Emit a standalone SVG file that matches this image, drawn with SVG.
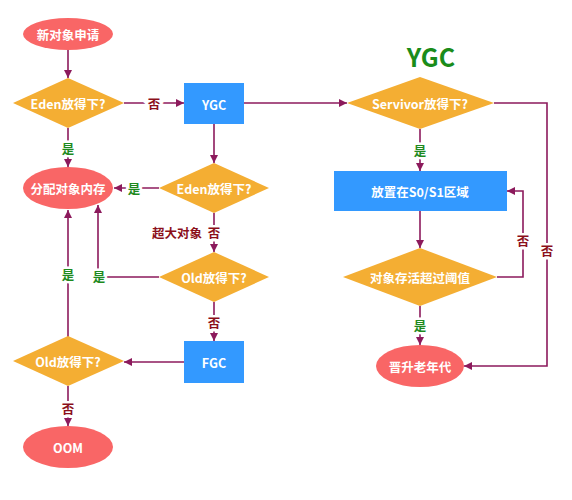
<svg xmlns="http://www.w3.org/2000/svg" width="572" height="500" viewBox="0 0 572 500">
<defs>
<marker id="ah" viewBox="0 0 10 10" refX="10" refY="5" markerWidth="8" markerHeight="8" markerUnits="userSpaceOnUse" orient="auto">
<path d="M0,0 L10,5 L0,10 z" fill="#8C1A5C"/>
</marker>
</defs>
<style>
.term{fill:#F96666}
.dec{fill:#F4AE33}
.proc{fill:#3399FF}
.nt{font-family:"Noto Sans CJK SC","Noto Sans",sans-serif;font-size:12.5px;font-weight:bold;fill:#fff;text-anchor:middle;dominant-baseline:central}
.ln{fill:none;stroke:#8C1A5C;stroke-width:1.6}
.lbl{font-family:"Noto Sans CJK SC",sans-serif;font-size:12.5px;font-weight:bold;text-anchor:middle;dominant-baseline:central;stroke:#fff;stroke-width:5;paint-order:stroke}
.no{fill:#8B0F1A}
.yes{fill:#1E8A1E}
.title{font-family:"Noto Sans CJK SC","Noto Sans",sans-serif;font-size:25px;font-weight:bold;fill:#1A8C1A;text-anchor:middle;dominant-baseline:central}
</style>
<rect width="572" height="500" fill="#fff"/>
<text class="title" x="431" y="56">YGC</text>
<g id="connectors">
<path class="ln" d="M68,50 V78" marker-end="url(#ah)"/>
<path class="ln" d="M124,103 H184" marker-end="url(#ah)"/>
<path class="ln" d="M244,103 H347" marker-end="url(#ah)"/>
<path class="ln" d="M68,128 V167" marker-end="url(#ah)"/>
<path class="ln" d="M214,124 V163" marker-end="url(#ah)"/>
<path class="ln" d="M159,188 H114" marker-end="url(#ah)"/>
<path class="ln" d="M214,213 V252" marker-end="url(#ah)"/>
<path class="ln" d="M159,277 H98 V205" marker-end="url(#ah)"/>
<path class="ln" d="M214,302 V341" marker-end="url(#ah)"/>
<path class="ln" d="M184,362 H124" marker-end="url(#ah)"/>
<path class="ln" d="M68,337 V210" marker-end="url(#ah)"/>
<path class="ln" d="M68,386 V426" marker-end="url(#ah)"/>
<path class="ln" d="M420,129 V171" marker-end="url(#ah)"/>
<path class="ln" d="M420,211 V248" marker-end="url(#ah)"/>
<path class="ln" d="M497,277 H523 V191 H507" marker-end="url(#ah)"/>
<path class="ln" d="M494,103 H547 V366 H464" marker-end="url(#ah)"/>
<path class="ln" d="M420,306 V345" marker-end="url(#ah)"/>
<text class="lbl no" x="154" y="103">否</text>
<text class="lbl yes" x="68" y="148">是</text>
<text class="lbl yes" x="134" y="188">是</text>
<text class="lbl no" x="214" y="232">否</text>
<text class="lbl no" x="177" y="232">超大对象</text>
<text class="lbl yes" x="99" y="276">是</text>
<text class="lbl yes" x="68" y="274">是</text>
<text class="lbl no" x="214" y="322">否</text>
<text class="lbl no" x="68" y="408">否</text>
<text class="lbl yes" x="420" y="150">是</text>
<text class="lbl no" x="523" y="240">否</text>
<text class="lbl no" x="547" y="250">否</text>
<text class="lbl yes" x="420" y="325">是</text>
</g>
<g id="start"><ellipse class="term" cx="68" cy="34" rx="45" ry="16"/><text class="nt" x="68" y="34">新对象申请</text></g>
<g id="eden1"><polygon class="dec" points="13,103 68,78 124,103 68,128"/><text class="nt" x="68" y="103">Eden放得下?</text></g>
<g id="ygc"><rect class="proc" x="184" y="83" width="60" height="41"/><text class="nt" x="214" y="104">YGC</text></g>
<g id="alloc"><ellipse class="term" cx="68" cy="188" rx="45" ry="21"/><text class="nt" x="68" y="188">分配对象内存</text></g>
<g id="eden2"><polygon class="dec" points="159,188 214,163 269,188 214,213"/><text class="nt" x="214" y="188">Eden放得下?</text></g>
<g id="old1"><polygon class="dec" points="159,277 214,252 269,277 214,302"/><text class="nt" x="214" y="277">Old放得下?</text></g>
<g id="fgc"><rect class="proc" x="184" y="341" width="60" height="42"/><text class="nt" x="214" y="362">FGC</text></g>
<g id="old2"><polygon class="dec" points="13,361 68,336 124,361 68,386"/><text class="nt" x="68" y="361">Old放得下?</text></g>
<g id="oom"><ellipse class="term" cx="68" cy="447" rx="45" ry="21"/><text class="nt" x="68" y="447">OOM</text></g>
<g id="servivor"><polygon class="dec" points="347,103 420,77 494,103 420,129"/><text class="nt" x="420" y="103">Servivor放得下?</text></g>
<g id="s0s1"><rect class="proc" x="334" y="171" width="173" height="40"/><text class="nt" x="420" y="191">放置在S0/S1区域</text></g>
<g id="threshold"><polygon class="dec" points="343,277 420,248 497,277 420,306"/><text class="nt" x="420" y="277">对象存活超过阈值</text></g>
<g id="promote"><ellipse class="term" cx="420" cy="366" rx="44" ry="21"/><text class="nt" x="420" y="366">晋升老年代</text></g>
</svg>
